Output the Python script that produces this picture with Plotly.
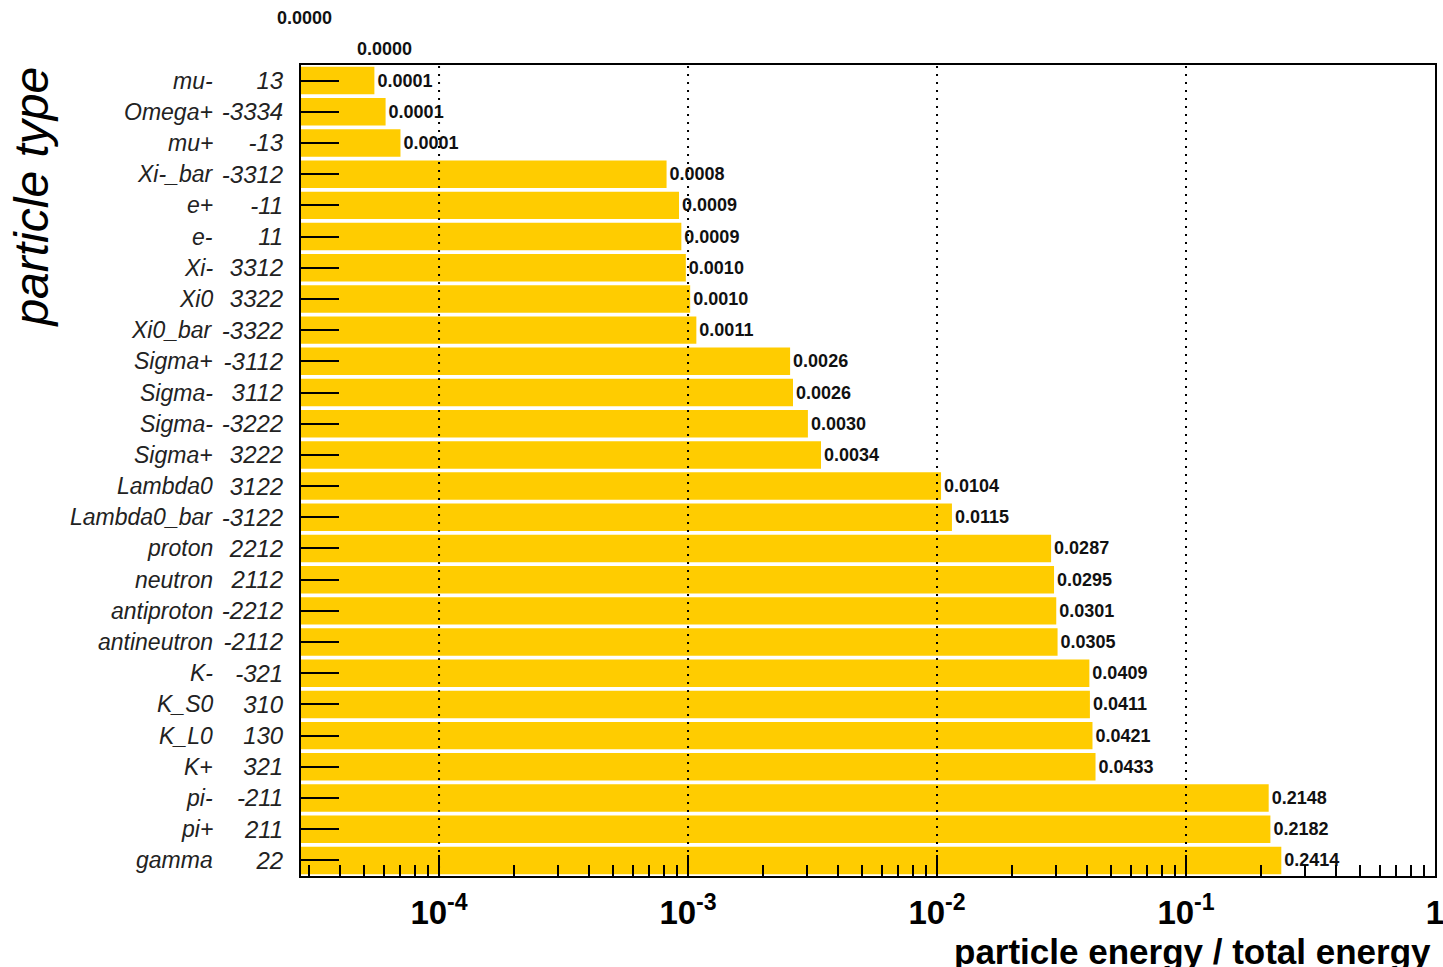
import math
import plotly.graph_objects as go

# Energy share carried by each particle species (PDG code next to the name)
particles = ["mu-", "Omega+", "mu+", "Xi-_bar", "e+", "e-", "Xi-", "Xi0", "Xi0_bar",
             "Sigma+", "Sigma-", "Sigma-", "Sigma+", "Lambda0", "Lambda0_bar",
             "proton", "neutron", "antiproton", "antineutron", "K-", "K_S0", "K_L0",
             "K+", "pi-", "pi+", "gamma"]
pdg_codes = [13, -3334, -13, -3312, -11, 11, 3312, 3322, -3322, -3112, 3112, -3222, 3222,
             3122, -3122, 2212, 2112, -2212, -2112, -321, 310, 130, 321, -211, 211, 22]
energy_fraction = [0.000055, 0.000061, 0.000070, 0.00082, 0.00092, 0.00094, 0.00098,
                   0.00102, 0.00108, 0.00257, 0.00264, 0.00303, 0.00342, 0.01038,
                   0.01148, 0.02872, 0.02951, 0.03012, 0.03049, 0.04091, 0.04112,
                   0.04211, 0.04331, 0.21481, 0.21822, 0.24141]
# two empty bins that fall above the frame
empty_fraction = [0.0, 0.0]
empty_label_x = [4.6e-5, 2.19e-5]

decade_vals = [1e-4, 1e-3, 1e-2, 1e-1, 1]
decade_text = ["<b>10<sup>-4</sup></b>", "<b>10<sup>-3</sup></b>", "<b>10<sup>-2</sup></b>",
               "<b>10<sup>-1</sup></b>", "<b>1</b>"]

FONT = "Liberation Sans, Arial, Helvetica, sans-serif"
rows = list(range(len(particles)))
y_lo, y_hi = len(particles) - 0.5, -0.5
x_lo, x_hi = math.log10(2.79e-5), 0.0


def row_to_paper(r):
    return (y_lo - r) / (y_lo - y_hi)


def value_to_paper(v):
    return (math.log10(v) - x_lo) / (x_hi - x_lo)


fig = go.Figure()
fig.add_trace(go.Bar(
    x=energy_fraction, y=rows, orientation="h",
    width=0.88,
    marker=dict(color="#FFCC00", line=dict(width=0)),
    text=[f"{v:.4f}" for v in energy_fraction],
    textposition="outside", cliponaxis=False, constraintext="none",
    textfont=dict(family=FONT, size=18, color="#111111", weight="bold"),
    hoverinfo="skip",
))

annotations = []
for i, name in enumerate(particles):
    annotations.append(dict(
        x=-0.076, xref="paper", y=i, yref="y", text=name, showarrow=False,
        xanchor="right", yanchor="middle",
        font=dict(family=FONT, size=23, color="#222222", style="italic")))

for k, (v, xv) in enumerate(zip(empty_fraction, empty_label_x)):
    annotations.append(dict(
        x=value_to_paper(xv), xref="paper", y=row_to_paper(-1 - k), yref="paper",
        text=f"{v:.4f}", showarrow=False, xanchor="left", yanchor="middle",
        font=dict(family=FONT, size=18, color="#111111", weight="bold")))

annotations.append(dict(
    x=0.998, xref="paper", y=-0.066, yref="paper", yanchor="top", xanchor="right",
    text="<b>particle energy / total energy</b>", showarrow=False,
    font=dict(family=FONT, size=35, color="black")))
annotations.append(dict(
    x=-0.238, xref="paper", y=1.0, yref="paper", xanchor="center", yanchor="top",
    text="particle type", textangle=-90, showarrow=False,
    font=dict(family=FONT, size=48, color="black", style="italic")))

# dotted decade lines drawn over the bars
shapes = [dict(type="line", xref="x", yref="paper", x0=v, x1=v, y0=0, y1=1,
               line=dict(color="black", width=2, dash="2px,6px"), layer="above")
          for v in decade_vals[:-1]]

fig.update_layout(
    width=1443, height=967,
    margin=dict(l=301, r=8, t=65, b=91, autoexpand=False),
    paper_bgcolor="white", plot_bgcolor="white",
    showlegend=False,
    annotations=annotations, shapes=shapes,
    xaxis=dict(
        type="log", range=[x_lo, x_hi + 1e-6], automargin=False,
        tickmode="array", tickvals=decade_vals, ticktext=decade_text,
        ticks="inside", ticklen=21, tickwidth=2, tickcolor="black",
        tickfont=dict(family=FONT, size=33, color="black"),
        ticklabelstandoff=6, ticklabeloverflow="allow",
        minor=dict(ticks="inside", ticklen=11, tickwidth=1.5, tickcolor="black",
                   dtick="D1", showgrid=False),
        showgrid=False, zeroline=False,
        showline=True, linecolor="black", linewidth=2, mirror=True,
    ),
    yaxis=dict(
        range=[y_lo, y_hi], automargin=False,
        tickmode="array", tickvals=rows, ticktext=[str(c) for c in pdg_codes],
        ticks="inside", ticklen=38, tickwidth=2, tickcolor="black",
        tickfont=dict(family=FONT, size=24, color="#222222", style="italic"),
        ticklabelstandoff=11,
        showgrid=False, zeroline=False,
        showline=True, linecolor="black", linewidth=2, mirror=True,
    ),
)

fig.write_html("out.html")
